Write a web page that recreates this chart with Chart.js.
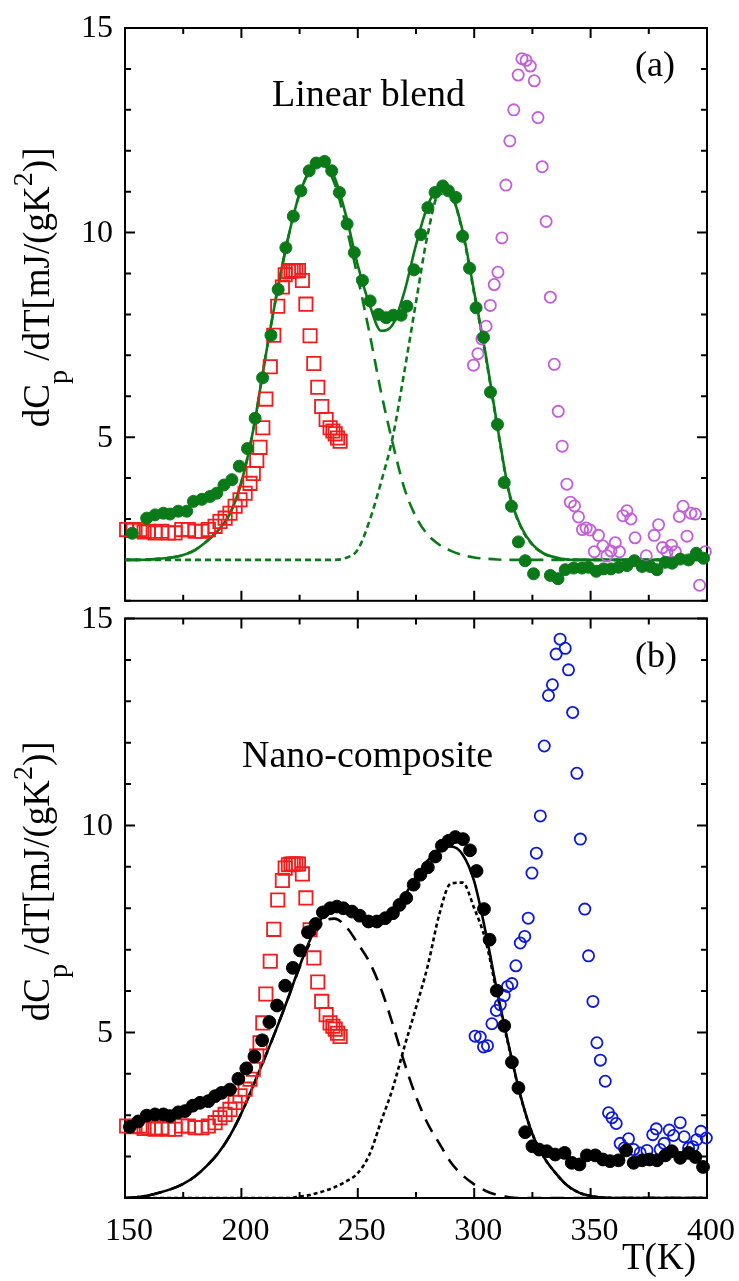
<!DOCTYPE html>
<html>
<head>
<meta charset="utf-8">
<title>dCp/dT</title>
<script src="https://cdn.jsdelivr.net/npm/chart.js@4.4.1/dist/chart.umd.min.js"></script>
<style>
  body { margin: 0; background: #fff; }
  #wrap { position: relative; width: 739px; height: 1281px; }
  canvas { position: absolute; left: 0; }
</style>
</head>
<body>
<div id="wrap">
  <canvas id="blend" width="739" height="612" style="top:0"></canvas>
  <canvas id="nano" width="739" height="701" style="top:580px"></canvas>
</div>
<script>
// axis ticks
const TICK_X = [150, 200, 250, 300, 350, 400];
const TICK_Y = [5, 10, 15];

// red squares, same run in both panels
const redT = [150.7, 153.5, 156.4, 158.2, 160.0, 162.9, 165.8, 168.6, 171.5, 174.4, 177.2, 180.1, 183.0, 185.8,
  188.7, 190.8, 193.0, 195.1, 197.3, 199.4, 201.6, 203.7, 205.1, 206.6, 208.0, 209.2, 210.5, 212.4, 213.9, 215.6,
  217.6, 218.8, 220.2, 221.3, 222.3, 223.4, 224.5, 226.2, 227.7, 229.5, 231.1, 232.8, 234.5, 236.4, 238.1, 239.3,
  240.3, 241.3, 242.4];
const redCp = [2.74, 2.72, 2.74, 2.68, 2.70, 2.66, 2.70, 2.66, 2.66, 2.74, 2.74, 2.70, 2.70, 2.74,
  2.82, 2.94, 3.02, 3.14, 3.31, 3.47, 3.63, 3.87, 4.11, 4.43, 4.75, 5.23, 5.93, 6.72, 7.49, 8.20,
  8.67, 8.97, 9.05, 9.07, 9.07, 9.07, 9.07, 8.83, 8.25, 7.48, 6.80, 6.22, 5.75, 5.43, 5.23, 5.15,
  5.08, 4.98, 4.90];

// (a) linear blend, green filled circles
const greenT = [153.1, 159.3, 162.9, 166.5, 169.3, 172.9, 176.5, 179.4, 183.0, 186.5, 189.4, 192.5, 195.9, 199.1,
  202.6, 205.9, 209.1, 212.7, 215.8, 219.1, 222.3, 225.5, 229.1, 232.1, 235.7, 238.8, 242.1, 245.4, 248.5,
  252.0, 255.3, 258.9, 262.2, 265.3, 268.6, 271.1, 274.1, 277.1, 280.1, 283.2, 286.5, 288.9, 292.1, 295.0,
  298.0, 300.8, 304.0, 307.0, 310.0, 312.9, 316.0, 319.0, 321.9, 325.5, 332.7, 336.0, 339.1, 342.7, 346.3,
  349.1, 352.4, 355.6, 358.7, 362.0, 365.6, 368.8, 372.1, 375.6, 378.5, 382.1, 385.0, 388.5, 392.1, 395.4, 398.5];
const greenCp = [2.65, 3.02, 3.10, 3.14, 3.12, 3.19, 3.19, 3.43, 3.48, 3.55, 3.63, 3.83, 3.96, 4.29,
  4.72, 5.46, 6.45, 7.49, 8.61, 9.63, 10.40, 11.02, 11.51, 11.70, 11.74, 11.51, 10.98, 10.21, 9.51,
  8.83, 8.33, 8.00, 7.92, 7.98, 7.98, 8.20, 9.09, 9.95, 10.61, 10.98, 11.14, 11.02, 10.86, 9.91,
  9.13, 8.16, 7.44, 6.10, 5.31, 3.89, 3.31, 2.44, 1.98, 1.66, 1.62, 1.54, 1.76, 1.80, 1.80,
  1.82, 1.72, 1.78, 1.78, 1.82, 1.86, 1.98, 1.84, 1.84, 1.76, 1.94, 1.92, 2.02, 2.00, 2.16, 2.04];

// (a) violet open circles
const violetT = [299.7, 301.6, 303.3, 305.1, 306.9, 308.6, 310.2, 311.9, 313.6, 315.3, 317.0, 318.9, 320.5, 322.3,
  324.1, 325.8, 327.4, 329.2, 330.9, 332.7, 334.4, 336.1, 337.8, 339.8, 341.3, 343.1, 344.8, 346.5, 348.1,
  349.8, 351.6, 353.4, 355.3, 357.0, 358.7, 360.6, 362.4, 363.9, 365.6, 367.3, 369.1, 373.9, 377.3, 379.2,
  380.9, 382.8, 384.7, 386.4, 388.1, 389.7, 391.4, 393.1, 395.0, 396.8, 399.3];
const violetCp = [6.76, 7.04, 7.40, 7.71, 8.22, 8.73, 9.03, 9.87, 11.16, 12.24, 13.00, 13.85, 14.25, 14.21,
  14.07, 13.71, 12.81, 11.61, 10.27, 8.42, 6.78, 5.63, 4.78, 3.85, 3.41, 3.32, 3.05, 2.74, 2.78,
  2.73, 2.20, 2.60, 2.34, 2.10, 2.22, 2.42, 2.20, 3.08, 3.20, 3.00, 2.54, 2.10, 2.60, 2.86,
  2.30, 2.20, 2.36, 2.20, 3.06, 3.31, 2.58, 3.14, 3.12, 1.38, 2.20];

// (b) nano-composite, black filled circles
const blackT = [152.1, 155.7, 159.3, 162.9, 166.5, 169.3, 172.9, 175.8, 179.1, 182.2, 185.8, 188.7, 191.5, 195.1,
  198.7, 202.1, 205.6, 208.9, 212.0, 215.3, 218.8, 222.1, 225.2, 228.6, 231.9, 235.0, 238.1, 241.0, 243.8,
  247.5, 250.8, 254.6, 258.2, 261.8, 265.1, 267.9, 270.8, 274.0, 276.9, 280.1, 283.3, 286.1, 289.0, 291.9,
  295.2, 298.2, 301.0, 304.2, 306.6, 309.7, 312.9, 316.2, 319.0, 321.9, 325.0, 327.9, 331.2, 334.8, 338.8,
  341.9, 345.2, 348.4, 352.0, 355.3, 358.4, 362.0, 365.3, 368.5, 372.1, 375.3, 378.5, 382.1, 384.9, 388.5,
  392.1, 395.0, 398.3];
const blackCp = [2.72, 2.85, 2.99, 3.02, 3.02, 2.98, 3.07, 3.10, 3.23, 3.30, 3.34, 3.46, 3.54, 3.62,
  3.88, 4.13, 4.42, 4.81, 5.25, 5.65, 6.13, 6.56, 6.98, 7.42, 7.62, 7.90, 8.00, 8.04, 8.00,
  7.92, 7.82, 7.68, 7.68, 7.76, 7.88, 8.08, 8.25, 8.57, 8.81, 8.99, 9.25, 9.51, 9.63, 9.72,
  9.67, 9.40, 8.90, 7.98, 7.24, 6.01, 5.16, 4.28, 3.66, 2.59, 2.25, 2.17, 2.13, 2.05, 2.09,
  1.85, 1.81, 2.03, 2.03, 1.93, 1.89, 1.91, 2.15, 1.85, 1.91, 1.93, 1.91, 2.03, 2.13, 1.97,
  2.09, 1.99, 1.75];

// (b) blue open circles
const blueT = [300.4, 302.6, 304.0, 305.7, 307.6, 309.5, 311.2, 312.9, 314.3, 316.2, 317.9, 319.8, 321.7, 323.2,
  324.8, 326.7, 328.4, 330.1, 331.9, 333.6, 335.2, 336.9, 339.1, 340.5, 342.3, 344.1, 345.6, 347.5, 349.1,
  351.0, 352.7, 354.2, 356.3, 357.7, 359.2, 361.0, 362.7, 364.5, 366.3, 368.5, 371.3, 374.2, 376.7, 378.2,
  379.9, 381.6, 383.8, 385.6, 388.5, 390.2, 392.1, 393.9, 395.6, 397.4, 399.7];
const blueCp = [4.91, 4.89, 4.65, 4.68, 5.21, 5.53, 5.67, 5.89, 6.11, 6.18, 6.61, 7.16, 7.32, 7.76,
  8.85, 9.33, 10.23, 11.92, 13.14, 13.40, 14.14, 14.50, 14.28, 13.76, 12.73, 11.26, 9.67, 7.98, 6.85,
  5.75, 4.75, 4.33, 3.82, 3.06, 2.94, 2.80, 2.32, 2.21, 2.43, 2.17, 2.09, 2.15, 2.53, 2.67,
  2.17, 2.32, 2.64, 2.51, 2.82, 2.48, 2.21, 2.24, 2.41, 2.61, 2.45];

// fitted curves, sampled every 5 K
const fitT = [150, 155, 160, 165, 170, 175, 180, 185, 190, 195,
  200, 205, 210, 215, 220, 225, 230, 235, 240, 245,
  250, 255, 260, 265, 270, 275, 280, 285, 290, 295,
  300, 305, 310, 315, 320, 325, 330, 335, 340, 345,
  350, 355, 360, 365, 370, 375, 380, 385, 390, 395, 400];
const blendFit = [2.00, 2.00, 2.01, 2.03, 2.06, 2.12, 2.24, 2.45, 2.72, 3.12,
  3.90, 5.15, 6.85, 8.45, 9.85, 10.95, 11.55, 11.72, 11.35, 10.40,
  9.20, 8.25, 7.60, 7.75, 8.55, 9.70, 10.65, 11.10, 10.95, 10.05,
  8.55, 7.00, 5.25, 3.65, 2.82, 2.38, 2.15, 2.06, 2.01, 2.00,
  2.00, 2.00, 2.00, 2.00, 2.00, 2.00, 2.00, 2.00, 2.00, 2.00, 2.00];
const blendPeak1 = [2.00, 2.00, 2.01, 2.03, 2.06, 2.12, 2.24, 2.45, 2.72, 3.12,
  3.90, 5.15, 6.85, 8.45, 9.85, 10.95, 11.55, 11.65, 11.20, 10.15,
  8.90, 7.55, 6.10, 4.85, 3.75, 3.05, 2.62, 2.37, 2.22, 2.12,
  2.06, 2.03, 2.01, 2.00, 2.00, 2.00, 2.00, 2.00, 2.00, 2.00,
  2.00, 2.00, 2.00, 2.00, 2.00, 2.00, 2.00, 2.00, 2.00, 2.00, 2.00];
const blendPeak2 = [2.00, 2.00, 2.00, 2.00, 2.00, 2.00, 2.00, 2.00, 2.00, 2.00,
  2.00, 2.00, 2.00, 2.00, 2.00, 2.00, 2.00, 2.00, 2.00, 2.05,
  2.25, 2.95, 3.90, 5.00, 6.60, 8.30, 9.95, 10.95, 10.90, 10.00,
  8.50, 6.95, 5.22, 3.63, 2.81, 2.37, 2.15, 2.06, 2.01, 2.00,
  2.00, 2.00, 2.00, 2.00, 2.00, 2.00, 2.00, 2.00, 2.00, 2.00, 2.00];
const nanoFit = [1.00, 1.02, 1.06, 1.13, 1.22, 1.34, 1.52, 1.77, 2.08, 2.50,
  3.05, 3.70, 4.38, 5.08, 5.82, 6.60, 7.30, 7.80, 7.98, 7.92,
  7.75, 7.62, 7.68, 7.92, 8.30, 8.75, 9.15, 9.40, 9.49, 9.30,
  8.65, 7.40, 5.95, 4.65, 3.45, 2.55, 1.98, 1.60, 1.30, 1.13,
  1.05, 1.01, 1.00, 1.00, 1.00, 1.00, 1.00, 1.00, 1.00, 1.00, 1.00];
const nanoPeak1 = [1.00, 1.02, 1.06, 1.13, 1.22, 1.34, 1.52, 1.77, 2.08, 2.50,
  3.05, 3.70, 4.38, 5.08, 5.82, 6.57, 7.22, 7.66, 7.75, 7.55,
  7.15, 6.70, 6.05, 5.20, 4.27, 3.45, 2.80, 2.32, 1.86, 1.55,
  1.33, 1.17, 1.07, 1.02, 1.00, 1.00, 1.00, 1.00, 1.00, 1.00,
  1.00, 1.00, 1.00, 1.00, 1.00, 1.00, 1.00, 1.00, 1.00, 1.00, 1.00];
const nanoPeak2 = [1.00, 1.00, 1.00, 1.00, 1.00, 1.00, 1.00, 1.00, 1.00, 1.00,
  1.00, 1.00, 1.00, 1.00, 1.00, 1.03, 1.08, 1.16, 1.26, 1.40,
  1.60, 2.05, 2.85, 3.65, 4.65, 5.60, 6.60, 7.85, 8.60, 8.62,
  8.00, 7.20, 5.88, 4.62, 3.44, 2.55, 1.98, 1.60, 1.30, 1.13,
  1.05, 1.01, 1.00, 1.00, 1.00, 1.00, 1.00, 1.00, 1.00, 1.00, 1.00];

const SERIF = '"Liberation Serif", "Times New Roman", serif';
const GREEN = '#0a7a18';
const RED = '#f21c1c';
const VIOLET = '#c45ddc';
const BLUE = '#0c18dc';

function xy(xs, ys) {
  return xs.map((x, i) => ({ x: x, y: ys[i] }));
}

function dots(xs, ys, color, r) {
  return {
    data: xy(xs, ys), showLine: false, clip: false,
    pointStyle: 'circle', pointRadius: r,
    pointBackgroundColor: color, pointBorderColor: color, pointBorderWidth: 1
  };
}

function rings(xs, ys, color) {
  return {
    data: xy(xs, ys), showLine: false, clip: false,
    pointStyle: 'circle', pointRadius: 5.6,
    pointBackgroundColor: 'rgba(0,0,0,0)', pointBorderColor: color, pointBorderWidth: 1.8
  };
}

function boxes(xs, ys, color) {
  return {
    data: xy(xs, ys), showLine: false, clip: false,
    pointStyle: 'rect', pointRadius: 9.4,
    pointBackgroundColor: 'rgba(0,0,0,0)', pointBorderColor: color, pointBorderWidth: 1.8
  };
}

function curve(ys, color, dash) {
  return {
    data: xy(fitT, ys), showLine: true, pointRadius: 0,
    borderColor: color, borderWidth: 2.6, borderDash: dash,
    cubicInterpolationMode: 'monotone', fill: false
  };
}

// dC_p/dT[mJ/(gK^2)] rotated, with sub- and superscript
function drawYTitle(ctx, baseX, midY) {
  const runs = [
    { t: 'dC', size: 37, dy: 0 },
    { t: 'p', size: 28, dy: 18 },
    { t: ' /dT[mJ/(gK', size: 37, dy: 0 },
    { t: '2', size: 28, dy: -17 },
    { t: ')]', size: 37, dy: 0 }
  ];
  ctx.save();
  ctx.translate(baseX, midY);
  ctx.rotate(-Math.PI / 2);
  ctx.textAlign = 'left';
  ctx.textBaseline = 'alphabetic';
  ctx.fillStyle = '#000';
  let total = 0;
  runs.forEach(r => {
    ctx.font = r.size + 'px ' + SERIF;
    r.w = ctx.measureText(r.t).width;
    total += r.w;
  });
  let cx = -total / 2;
  runs.forEach(r => {
    ctx.font = r.size + 'px ' + SERIF;
    ctx.fillText(r.t, cx, r.dy);
    cx += r.w;
  });
  ctx.restore();
}

// boxed frame with inward ticks on all four sides, plus labels
const axesFrame = {
  id: 'axesFrame',
  beforeDatasetsDraw(chart) {
    const { ctx, chartArea: a, scales: { x, y } } = chart;
    ctx.save();
    ctx.strokeStyle = '#000';
    ctx.lineWidth = 2;
    ctx.strokeRect(a.left, a.top, a.right - a.left, a.bottom - a.top);
    ctx.beginPath();
    for (let t = x.min; t <= x.max; t += 25) {
      const px = x.getPixelForValue(t);
      const len = TICK_X.includes(t) ? 10 : 6;
      ctx.moveTo(px, a.bottom); ctx.lineTo(px, a.bottom - len);
      ctx.moveTo(px, a.top); ctx.lineTo(px, a.top + len);
    }
    for (let v = y.min; v <= y.max; v++) {
      const py = y.getPixelForValue(v);
      const len = TICK_Y.includes(v) ? 10 : 6;
      ctx.moveTo(a.left, py); ctx.lineTo(a.left + len, py);
      ctx.moveTo(a.right, py); ctx.lineTo(a.right - len, py);
    }
    ctx.stroke();
    ctx.restore();
  },
  afterDraw(chart, args, opts) {
    const { ctx, chartArea: a, scales: { x, y } } = chart;
    ctx.save();
    ctx.fillStyle = '#000';
    ctx.font = '32px ' + SERIF;
    ctx.textAlign = 'right';
    ctx.textBaseline = 'middle';
    TICK_Y.forEach(v => ctx.fillText(String(v), a.left - 12, y.getPixelForValue(v) + 1));
    if (opts.xLabels) {
      ctx.textAlign = 'center';
      ctx.textBaseline = 'alphabetic';
      TICK_X.forEach(t => ctx.fillText(String(t), x.getPixelForValue(t) + 4, a.bottom + 42));
      ctx.font = '37px ' + SERIF;
      ctx.fillText('T(K)', 659, a.bottom + 71);
    }
    ctx.textAlign = 'left';
    ctx.textBaseline = 'alphabetic';
    ctx.font = '38px ' + SERIF;
    ctx.fillText(opts.name, opts.nameAt[0], a.top + opts.nameAt[1]);
    ctx.font = '36px ' + SERIF;
    ctx.fillText(opts.tag, 635, a.top + 48);
    drawYTitle(ctx, 49, (a.top + a.bottom) / 2 - 27);
    ctx.restore();
  }
};

function makePanel(id, datasets, pad, frameOpts) {
  return new Chart(document.getElementById(id), {
    type: 'scatter',
    data: { datasets: datasets },
    plugins: [axesFrame],
    options: {
      responsive: false,
      animation: false,
      events: [],
      layout: { padding: pad },
      plugins: {
        legend: { display: false },
        tooltip: { enabled: false },
        axesFrame: frameOpts
      },
      scales: {
        x: { type: 'linear', min: 150, max: 400, display: false },
        y: { type: 'linear', min: 1, max: 15, display: false }
      }
    }
  });
}

makePanel('blend', [
  dots(greenT, greenCp, GREEN, 6),
  rings(violetT, violetCp, VIOLET),
  boxes(redT, redCp, RED),
  curve(blendFit, GREEN, []),
  curve(blendPeak1, GREEN, [13, 8]),
  curve(blendPeak2, GREEN, [6, 4])
], { left: 125, right: 32, top: 28, bottom: 3 },
{ xLabels: false, name: 'Linear blend', nameAt: [272, 78], tag: '(a)' });

makePanel('nano', [
  dots(blackT, blackCp, '#000', 6.4),
  rings(blueT, blueCp, BLUE),
  boxes(redT, redCp, RED),
  curve(nanoFit, '#000', []),
  curve(nanoPeak1, '#000', [14, 9]),
  curve(nanoPeak2, '#000', [4, 3])
], { left: 125, right: 32, top: 38.5, bottom: 83 },
{ xLabels: true, name: 'Nano-composite', nameAt: [242, 148.5], tag: '(b)' });
</script>
</body>
</html>
